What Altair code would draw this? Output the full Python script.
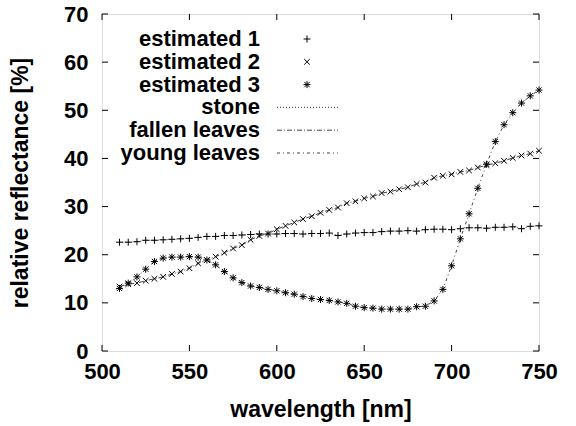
import altair as alt
import pandas as pd

wavelength = [510, 515, 520, 525, 530, 535, 540, 545, 550, 555, 560, 565, 570, 575, 580,
              585, 590, 595, 600, 605, 610, 615, 620, 625, 630, 635, 640, 645, 650, 655,
              660, 665, 670, 675, 680, 685, 690, 695, 700, 705, 710, 715, 720, 725, 730,
              735, 740, 745, 750]

estimated_1 = [22.6, 22.6, 22.7, 23.0, 23.0, 23.1, 23.2, 23.3, 23.4, 23.6, 23.8, 23.8, 24.0,
               24.0, 24.1, 24.2, 24.3, 24.3, 24.3, 24.4, 24.4, 24.3, 24.4, 24.4, 24.5, 24.0,
               24.3, 24.5, 24.6, 24.6, 24.8, 24.9, 24.9, 25.0, 24.9, 25.2, 25.3, 25.3, 25.2,
               25.4, 25.6, 25.6, 25.5, 25.7, 25.7, 25.8, 25.4, 25.9, 26.0]

estimated_2 = [13.4, 13.9, 14.1, 14.6, 15.0, 15.4, 16.0, 16.5, 17.2, 18.2, 18.9, 19.6, 20.4,
               21.3, 22.0, 23.1, 23.9, 24.4, 25.3, 26.0, 26.7, 27.4, 28.0, 28.7, 29.3, 29.8,
               30.7, 31.1, 31.7, 32.1, 32.8, 33.1, 33.6, 34.0, 34.7, 35.0, 36.0, 36.4, 36.7,
               37.2, 37.5, 38.1, 38.6, 39.0, 39.5, 40.1, 40.6, 41.0, 41.6]

estimated_3 = [13.0, 14.1, 15.4, 17.0, 18.6, 19.3, 19.5, 19.5, 19.6, 19.5, 18.9, 17.9, 16.5,
               15.2, 14.2, 13.5, 13.2, 12.8, 12.5, 12.1, 11.8, 11.3, 10.9, 10.7, 10.5, 10.2,
               9.9, 9.3, 9.0, 8.9, 8.7, 8.7, 8.7, 8.7, 9.2, 9.3, 10.4, 12.8, 17.7, 23.3,
               28.5, 33.8, 38.8, 43.5, 47.0, 49.5, 51.5, 53.0, 54.2]

point_series = ["estimated 1", "estimated 2", "estimated 3"]
line_series = ["stone", "fallen leaves", "young leaves"]
x_ticks = [500, 550, 600, 650, 700, 750]
y_ticks = [0, 10, 20, 30, 40, 50, 60, 70]

W, H = 437, 337
FONT = "Liberation Sans"
FS = 22
FS_T = 23

pts_rows, line_rows = [], []
for pname, lname, vals in zip(point_series, line_series, [estimated_1, estimated_2, estimated_3]):
    for w, v in zip(wavelength, vals):
        pts_rows.append({"wavelength": w, "value": v, "series": pname})
        line_rows.append({"wavelength": w, "value": v, "series": lname})
pts_df = pd.DataFrame(pts_rows)
lines_df = pd.DataFrame(line_rows)
xt_df = pd.DataFrame({"wavelength": x_ticks})
yt_df = pd.DataFrame({"value": y_ticks})

PLUS = "M-1,0L1,0M0,-1L0,1"
CROSS = "M-0.8,-0.8L0.8,0.8M-0.8,0.8L0.8,-0.8"
STAR = "M-1,0L1,0M0,-1L0,1M-0.75,-0.75L0.75,0.75M-0.75,0.75L0.75,-0.75"

shape_scale = alt.Scale(domain=point_series, range=[PLUS, CROSS, STAR])
dash_scale = alt.Scale(domain=line_series, range=[[1, 2], [5, 2, 1, 2], [3, 3, 1, 3]])

x_scale = alt.Scale(domain=[500, 750], nice=False, zero=False)
y_scale = alt.Scale(domain=[0, 70], nice=False, zero=True)

x_axis = alt.Axis(values=x_ticks, format="d", title="wavelength [nm]",
                  labelFont=FONT, labelFontSize=FS, labelFontWeight="bold", labelColor="black",
                  labelBaseline="middle", labelPadding=20,
                  titleFont=FONT, titleFontSize=FS_T, titleFontWeight="bold", titleColor="black",
                  titleBaseline="middle", titleY=58,
                  domain=False, ticks=False, grid=False, labelFlush=False)
y_axis = alt.Axis(values=y_ticks, format="d", title="relative reflectance [%]",
                  labelFont=FONT, labelFontSize=FS, labelFontWeight="bold", labelColor="black",
                  labelPadding=14,
                  titleFont=FONT, titleFontSize=FS_T, titleFontWeight="bold", titleColor="black",
                  titleBaseline="middle", titleAlign="center", titleAngle=270,
                  titleX=-82, titleY=H / 2,
                  domain=False, ticks=False, grid=False, labelFlush=False)

X = alt.X("wavelength:Q", scale=x_scale, axis=x_axis)
Y = alt.Y("value:Q", scale=y_scale, axis=y_axis)

lines = alt.Chart(lines_df).mark_line(color="#444444", strokeWidth=1).encode(
    x=X, y=Y,
    strokeDash=alt.StrokeDash("series:N", scale=dash_scale, legend=None),
    detail="series:N",
    order="wavelength:Q",
)
points = alt.Chart(pts_df).mark_point(color="black", filled=False, strokeWidth=1,
                                      opacity=1, size=49).encode(
    x=X, y=Y,
    shape=alt.Shape("series:N", scale=shape_scale, legend=None),
)

tick_len = 6
bottom_ticks = alt.Chart(xt_df).mark_rule(color="black", strokeWidth=1).encode(
    x=X, y=alt.value(H), y2=alt.value(H - tick_len))
top_ticks = alt.Chart(xt_df).mark_rule(color="black", strokeWidth=1).encode(
    x=X, y=alt.value(0), y2=alt.value(tick_len))
left_ticks = alt.Chart(yt_df).mark_rule(color="black", strokeWidth=1).encode(
    y=Y, x=alt.value(0), x2=alt.value(tick_len))
right_ticks = alt.Chart(yt_df).mark_rule(color="black", strokeWidth=1).encode(
    y=Y, x=alt.value(W), x2=alt.value(W - tick_len))

main = alt.layer(bottom_ticks, top_ticks, left_ticks, right_ticks, lines, points)

# gnuplot-style key: right-aligned labels, samples to the right
legend_labels = point_series + line_series
leg_y = alt.Y("label:N", sort=legend_labels,
              scale=alt.Scale(type="point", domain=legend_labels, range=[25, 139], padding=0),
              axis=None)
leg_df = pd.DataFrame({"label": legend_labels})
leg_pts_df = pd.DataFrame({"label": point_series})
leg_lines_df = pd.DataFrame({"label": line_series})

leg_text = alt.Chart(leg_df).mark_text(align="right", baseline="middle", font=FONT,
                                       fontSize=FS, fontWeight="bold", color="black").encode(
    y=leg_y, x=alt.value(158), text="label:N")
leg_sym = alt.Chart(leg_pts_df).mark_point(color="black", filled=False, strokeWidth=1,
                                           opacity=1, size=49).encode(
    y=leg_y, x=alt.value(205),
    shape=alt.Shape("label:N", scale=shape_scale, legend=None))
leg_line = alt.Chart(leg_lines_df).mark_rule(color="#444444", strokeWidth=1).encode(
    y=leg_y, x=alt.value(175), x2=alt.value(236),
    strokeDash=alt.StrokeDash("label:N", scale=dash_scale, legend=None))

legend = alt.layer(leg_text, leg_sym, leg_line)

chart = alt.layer(main, legend).resolve_scale(y="independent").properties(
    width=W, height=H,
    autosize=alt.AutoSizeParams(type="none"),
    padding={"left": 102, "top": 14, "right": 37, "bottom": 75},
).configure_view(stroke="black", strokeWidth=1).configure(background="white")

chart.save("out.html", embed_options={"renderer": "svg", "actions": False})
